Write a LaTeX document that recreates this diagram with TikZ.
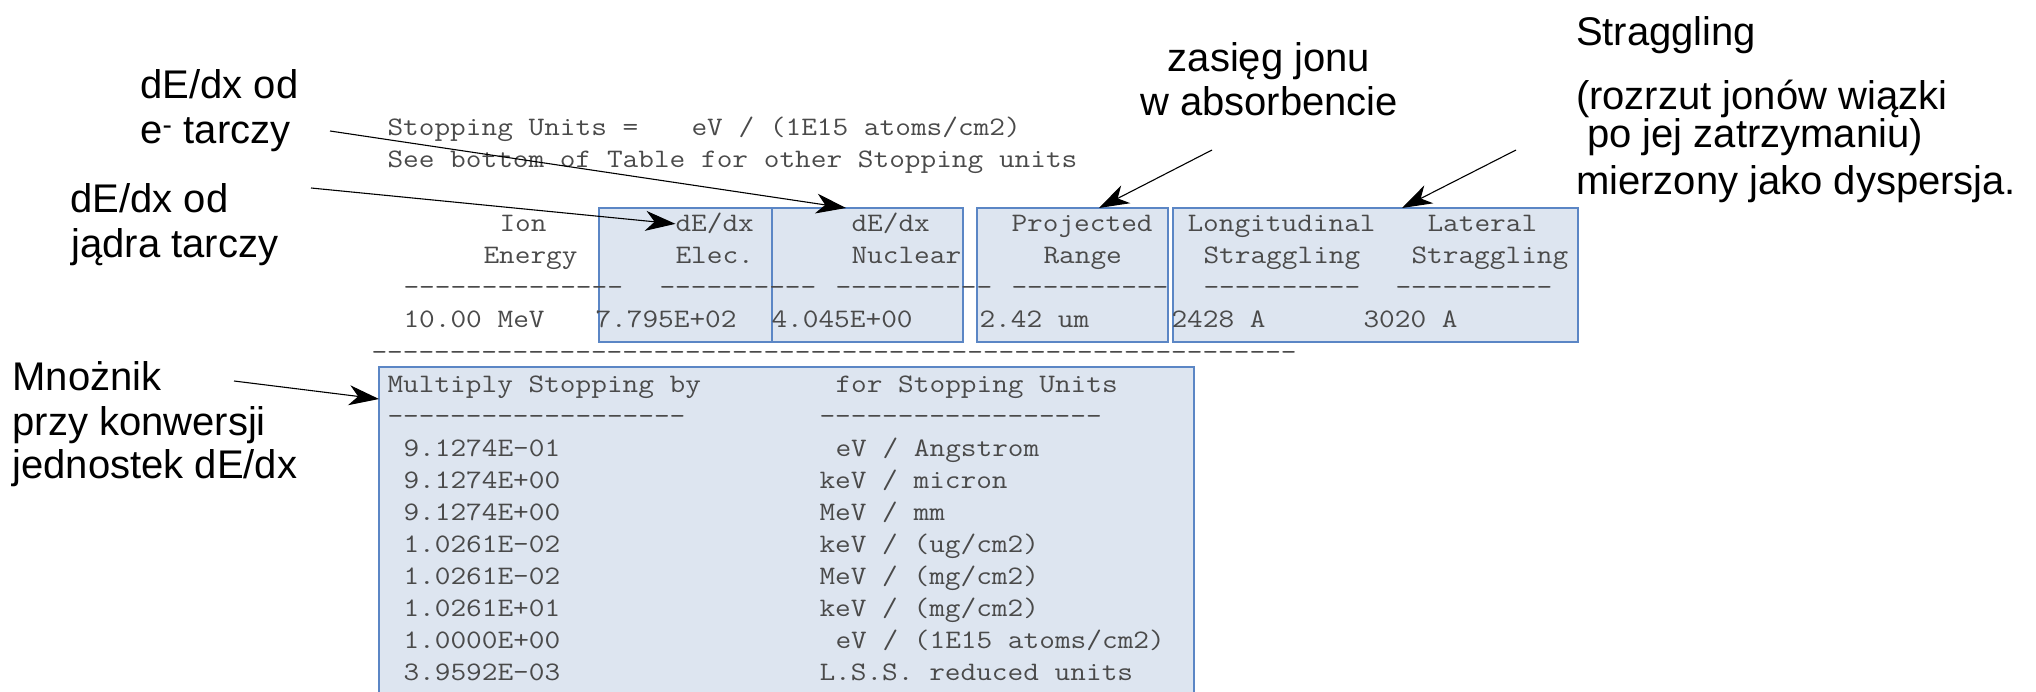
\documentclass[tikz,border=0pt]{standalone}
\usepackage{fontspec}
\usepackage{graphicx}
\usetikzlibrary{arrows.meta,calc}

\newfontfamily\labfont{Liberation Sans}
\definecolor{boxfill}{HTML}{DDE5F0}
\definecolor{boxline}{HTML}{5B86C5}
\definecolor{ttgray}{HTML}{4A4A4A}

% monospaced SRIM output: 16pt per character cell, 32pt per line
\newcommand{\srimtext}[1]{\scalebox{1.1416}[1]{\fontsize{26.67}{32}\ttfamily\frenchspacing #1}}
\newcommand{\dashrun}[1]{\foreach\k in {1,...,#1}{-\kern0pt}}
% \tcell{name}{column}{line}{text}
\newcommand{\tcell}[4]{\node[ttcell] (#1) at ({387.5+16*(#2)},{136+32*(#3)}) {\srimtext{#4}};}

\begin{document}
\begin{tikzpicture}[x=1pt,y=-1pt,
  lab/.style={font=\fontsize{40}{45}\labfont, inner sep=0pt, outer sep=0pt, anchor=base west},
  tabbox/.style={draw=boxline, fill=boxfill, line width=1.4pt, inner sep=0pt, outer sep=0pt, anchor=north west},
  ttcell/.style={inner sep=0pt, outer sep=0pt, anchor=base west, text=ttgray},
  callout/.style={-{Stealth[length=30pt,width=20pt,inset=9pt]}, line width=1.1pt, black}
]
\useasboundingbox (0,0) rectangle (2036,692);
\clip (0,0) rectangle (2036,692);

% highlighted columns of the table
\node[tabbox, minimum width=173, minimum height=134] (elecbox) at (599,208) {};
\node[tabbox, minimum width=191, minimum height=134] (nucbox) at (772,208) {};
\node[tabbox, minimum width=191, minimum height=134] (projbox) at (977,208) {};
\node[tabbox, minimum width=405, minimum height=134] (stragbox) at (1173,208) {};
\node[tabbox, minimum width=815, minimum height=340] (convbox) at (379,367) {};

% SRIM output table
\tcell{r0a}{0}{0}{Stopping Units =}
\tcell{r0b}{19}{0}{eV / (1E15 atoms/cm2)}
\tcell{r1a}{0}{1}{See bottom of Table for other Stopping units}

\tcell{hIon}{7}{3}{Ion}
\tcell{hElec}{18}{3}{dE/dx}
\tcell{hNuc}{29}{3}{dE/dx}
\tcell{hProj}{39}{3}{Projected}
\tcell{hLong}{50}{3}{Longitudinal}
\tcell{hLat}{65}{3}{Lateral}

\tcell{hEnergy}{6}{4}{Energy}
\tcell{hElecB}{18}{4}{Elec.}
\tcell{hNucB}{29}{4}{Nuclear}
\tcell{hRange}{41}{4}{Range}
\tcell{hStrA}{51}{4}{Straggling}
\tcell{hStrB}{64}{4}{Straggling}

\tcell{d1}{1}{5}{\dashrun{14}}
\tcell{d2}{17}{5}{\dashrun{10}}
\tcell{d3}{28}{5}{\dashrun{10}}
\tcell{d4}{39}{5}{\dashrun{10}}
\tcell{d5}{51}{5}{\dashrun{10}}
\tcell{d6}{63}{5}{\dashrun{10}}

\tcell{vEn}{1}{6}{10.00 MeV}
\tcell{vElec}{13}{6}{7.795E+02}
\tcell{vNuc}{24}{6}{4.045E+00}
\tcell{vProj}{37}{6}{2.42 um}
\tcell{vLong}{49}{6}{2428 A}
\tcell{vLat}{61}{6}{3020 A}

\tcell{dLong}{-1}{7}{\dashrun{59}}

\tcell{cHa}{0}{8}{Multiply Stopping by}
\tcell{cHb}{28}{8}{for Stopping Units}
\tcell{cDa}{0}{9}{\dashrun{19}}
\tcell{cDb}{27}{9}{\dashrun{18}}

\tcell{c1a}{1}{10}{9.1274E-01}  \tcell{c1b}{28}{10}{eV / Angstrom}
\tcell{c2a}{1}{11}{9.1274E+00}  \tcell{c2b}{27}{11}{keV / micron}
\tcell{c3a}{1}{12}{9.1274E+00}  \tcell{c3b}{27}{12}{MeV / mm}
\tcell{c4a}{1}{13}{1.0261E-02}  \tcell{c4b}{27}{13}{keV / (ug/cm2)}
\tcell{c5a}{1}{14}{1.0261E-02}  \tcell{c5b}{27}{14}{MeV / (mg/cm2)}
\tcell{c6a}{1}{15}{1.0261E+01}  \tcell{c6b}{27}{15}{keV / (mg/cm2)}
\tcell{c7a}{1}{16}{1.0000E+00}  \tcell{c7b}{28}{16}{eV / (1E15 atoms/cm2)}
\tcell{c8a}{1}{17}{3.9592E-03}  \tcell{c8b}{27}{17}{L.S.S. reduced units}

% annotations
\node[lab] (elA) at (140.5,99) {dE/dx od};
\node[lab] (elB) at (140.5,144) {e\textsuperscript{-} tarczy};
\node[lab] (nuA) at (70.5,213) {dE/dx od};
\node[lab] (nuB) at (71.5,258) {jądra tarczy};
\node[lab] (muA) at (12.5,390) {Mnożnik};
\node[lab] (muB) at (12.5,435) {przy konwersji};
\node[lab] (muC) at (12.5,478) {jednostek dE/dx};
\node[lab, anchor=base] (raA) at (1269,72) {zasięg jonu};
\node[lab, anchor=base] (raB) at (1269,116) {w absorbencie};
\node[lab] (stA) at (1576,46) {Straggling};
\node[lab] (stB) at (1576,110) {(rozrzut jonów wiązki};
\node[lab] (stC) at (1576,148) {\ po jej zatrzymaniu)};
\node[lab] (stD) at (1576,195) {mierzony jako dyspersja.};

% callout arrows
\coordinate (a1s) at (330,131);
\coordinate (a2s) at (311,188);
\coordinate (a3s) at (1212,150);
\coordinate (a4s) at (1516,150);
\coordinate (a5s) at (234,381);
\draw[callout] (a1s) -- ($(nucbox.north west)+(74,0)$);
\draw[callout] (a2s) -- (hElec.west);
\draw[callout] (a3s) -- ($(projbox.north west)+(122,0)$);
\draw[callout] (a4s) -- ($(stragbox.north west)+(229,0)$);
\draw[callout] (a5s) -- ($(convbox.north west)+(0,32)$);
\end{tikzpicture}
\end{document}
